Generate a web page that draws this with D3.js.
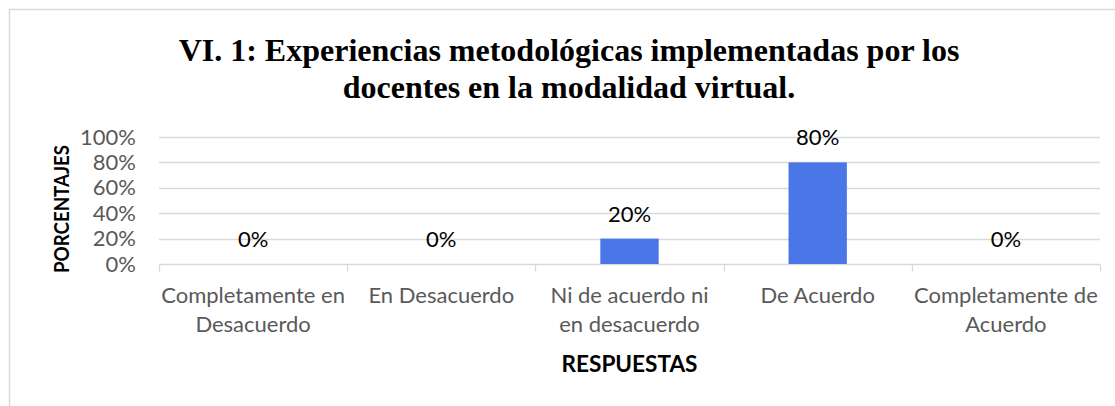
<!DOCTYPE html>
<html>
<head>
<meta charset="utf-8">
<script src="https://cdn.jsdelivr.net/npm/d3@7"></script>
<style>
  body { margin: 0; background: #fff; }
  svg { display: block; }
</style>
</head>
<body>
<div id="chart"></div>
<script>
const categories = [
  'Completamente en Desacuerdo',
  'En Desacuerdo',
  'Ni de acuerdo ni en desacuerdo',
  'De Acuerdo',
  'Completamente de Acuerdo'
];
const categoryLines = [
  ['Completamente en', 'Desacuerdo'],
  ['En Desacuerdo'],
  ['Ni de acuerdo ni', 'en desacuerdo'],
  ['De Acuerdo'],
  ['Completamente de', 'Acuerdo']
];
const values = [0, 0, 0.2, 0.8, 0];
const yTicks = [0, 0.2, 0.4, 0.6, 0.8, 1];
const titleLines = [
  'VI. 1: Experiencias metodológicas implementadas por los',
  'docentes en la modalidad virtual.'
];

const width = 1115;
const height = 406;
const margin = { top: 137, right: 15, bottom: 142, left: 159 };
const labelFont = 'Lato, "Open Sans", sans-serif';
const fontSize = 22;

const svg = d3.select('#chart').append('svg')
  .attr('width', width)
  .attr('height', height);

// chart frame, runs off the right and bottom edges
svg.append('rect')
  .attr('x', 9.5).attr('y', 9.5)
  .attr('width', 1130).attr('height', 420)
  .attr('fill', '#fff')
  .attr('stroke', '#d9d9d9')
  .attr('stroke-width', 1.5);

const plotRight = 1100;

const x = d3.scaleBand()
  .domain(categories)
  .range([margin.left, plotRight])
  .paddingInner(0.69)
  .paddingOuter(0.345);

const xEdge = d3.scaleLinear()
  .domain([0, categories.length])
  .range([margin.left, plotRight]);

const y = d3.scaleLinear()
  .domain([0, 1])
  .range([height - margin.bottom, margin.top]);

// gridlines
svg.append('g')
  .selectAll('line')
  .data(yTicks.slice(1))
  .join('line')
  .attr('x1', xEdge(0)).attr('x2', xEdge(categories.length))
  .attr('y1', (d) => Math.round(y(d)) + 0.5)
  .attr('y2', (d) => Math.round(y(d)) + 0.5)
  .attr('stroke', '#d9d9d9')
  .attr('stroke-width', 1.3);

// y axis labels
const yAxis = d3.axisLeft(y)
  .tickValues(yTicks)
  .tickFormat(d3.format('.0%'))
  .tickSize(0)
  .tickPadding(23);

svg.append('g')
  .attr('transform', `translate(${margin.left},0)`)
  .call(yAxis)
  .call((g) => g.select('.domain').remove())
  .call((g) => g.selectAll('text')
    .attr('font-family', labelFont)
    .attr('font-size', fontSize)
    .attr('fill', '#595959'));

// x axis line and boundary ticks
const baseY = Math.round(y(0)) + 0.5;
svg.append('line')
  .attr('x1', xEdge(0)).attr('x2', xEdge(categories.length))
  .attr('y1', baseY).attr('y2', baseY)
  .attr('stroke', '#d9d9d9')
  .attr('stroke-width', 1.3);

svg.append('g')
  .selectAll('line')
  .data(d3.range(categories.length + 1))
  .join('line')
  .attr('x1', (d) => Math.round(xEdge(d)) + 0.5)
  .attr('x2', (d) => Math.round(xEdge(d)) + 0.5)
  .attr('y1', baseY).attr('y2', baseY + 7)
  .attr('stroke', '#d9d9d9')
  .attr('stroke-width', 1.3);

// bars
svg.append('g')
  .selectAll('rect')
  .data(values)
  .join('rect')
  .attr('x', (d, i) => x(categories[i]))
  .attr('width', x.bandwidth())
  .attr('y', (d) => y(d))
  .attr('height', (d) => y(0) - y(d))
  .attr('fill', '#4a76e8');

// data labels
svg.append('g')
  .selectAll('text')
  .data(values)
  .join('text')
  .attr('x', (d, i) => x(categories[i]) + x.bandwidth() / 2)
  .attr('y', (d) => y(d) - 17)
  .attr('text-anchor', 'middle')
  .attr('font-family', labelFont)
  .attr('font-size', fontSize)
  .attr('fill', '#000')
  .text((d) => d3.format('.0%')(d));

// category labels
const catG = svg.append('g')
  .selectAll('text')
  .data(categoryLines)
  .join('text')
  .attr('x', (d, i) => x(categories[i]) + x.bandwidth() / 2)
  .attr('y', 303)
  .attr('text-anchor', 'middle')
  .attr('font-family', labelFont)
  .attr('font-size', fontSize)
  .attr('fill', '#595959');

catG.selectAll('tspan')
  .data((d) => d)
  .join('tspan')
  .attr('x', function () { return this.parentNode.getAttribute('x'); })
  .attr('dy', (d, i) => (i === 0 ? 0 : 29))
  .text((d) => d);

// axis titles
svg.append('text')
  .attr('x', xEdge(categories.length / 2))
  .attr('y', 372)
  .attr('text-anchor', 'middle')
  .attr('font-family', labelFont)
  .attr('font-weight', 'bold')
  .attr('font-size', fontSize)
  .attr('textLength', 136)
  .attr('lengthAdjust', 'spacingAndGlyphs')
  .attr('fill', '#000')
  .text('RESPUESTAS');

svg.append('text')
  .attr('transform', `translate(69,209) rotate(-90)`)
  .attr('text-anchor', 'middle')
  .attr('font-family', labelFont)
  .attr('font-weight', 'bold')
  .attr('font-size', 21)
  .attr('textLength', 128)
  .attr('lengthAdjust', 'spacingAndGlyphs')
  .attr('fill', '#000')
  .text('PORCENTAJES');

// title
svg.append('text')
  .attr('x', 569)
  .attr('y', 61)
  .attr('text-anchor', 'middle')
  .attr('font-family', '"Liberation Serif", "Times New Roman", serif')
  .attr('font-weight', 'bold')
  .attr('font-size', 32)
  .attr('fill', '#000')
  .selectAll('tspan')
  .data(titleLines)
  .join('tspan')
  .attr('x', 569)
  .attr('dy', (d, i) => (i === 0 ? 0 : 37))
  .text((d) => d);
</script>
</body>
</html>
